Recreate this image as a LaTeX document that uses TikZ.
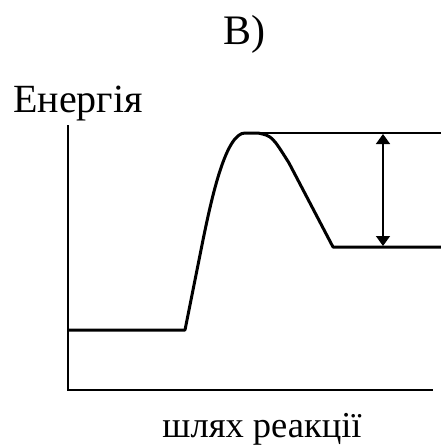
\documentclass[tikz,border=0pt]{standalone}
\usepackage{fontspec}
\setmainfont{Liberation Serif}
\usetikzlibrary{arrows.meta}
\begin{document}
\begin{tikzpicture}[x=1pt,y=-1pt,
  axis/.style={line width=1.8pt},
  curve/.style={line width=3pt,line join=round},
  level/.style={line width=1.5pt},
  dim/.style={line width=1.5pt,{Triangle[length=10pt,width=14pt]}-{Triangle[length=10pt,width=14pt]}},
  lbl/.style={inner sep=0pt}]
\useasboundingbox (0,0) rectangle (441,448);
\node[lbl,font=\fontsize{42}{44}\selectfont] (title) at (244,34) {B)};
\node[lbl,anchor=base west,font=\fontsize{40}{42}\selectfont] (ylab) at (13,112) {Енергія};
\node[lbl,anchor=base,font=\fontsize{36.5}{40}\selectfont] (xlab) at (262,437) {шлях реакції};
\coordinate (O) at (68,390);
\coordinate (Ytop) at (68,125);
\coordinate (Xend) at (433,390);
\draw[axis] (Ytop) -- (O) -- (Xend);
\coordinate (r0) at (67,330);
\coordinate (r1) at (185,330);
\coordinate (pk1) at (245,133);
\coordinate (pk2) at (258,133);
\coordinate (p0) at (333,247);
\coordinate (p1) at (441,247);
\coordinate (t1) at (441,133);
\draw[curve] (r0) -- (r1) -- (203,240) .. controls (212,196) and (226,133) .. (pk1) -- (pk2)
  .. controls (272,136) .. (289,163) -- (p0) -- (p1);
\draw[level] (pk2) -- (t1);
\coordinate (a1) at (383,134);
\coordinate (a2) at (383,246);
\draw[dim] (a1) -- (a2);
\end{tikzpicture}
\end{document}
